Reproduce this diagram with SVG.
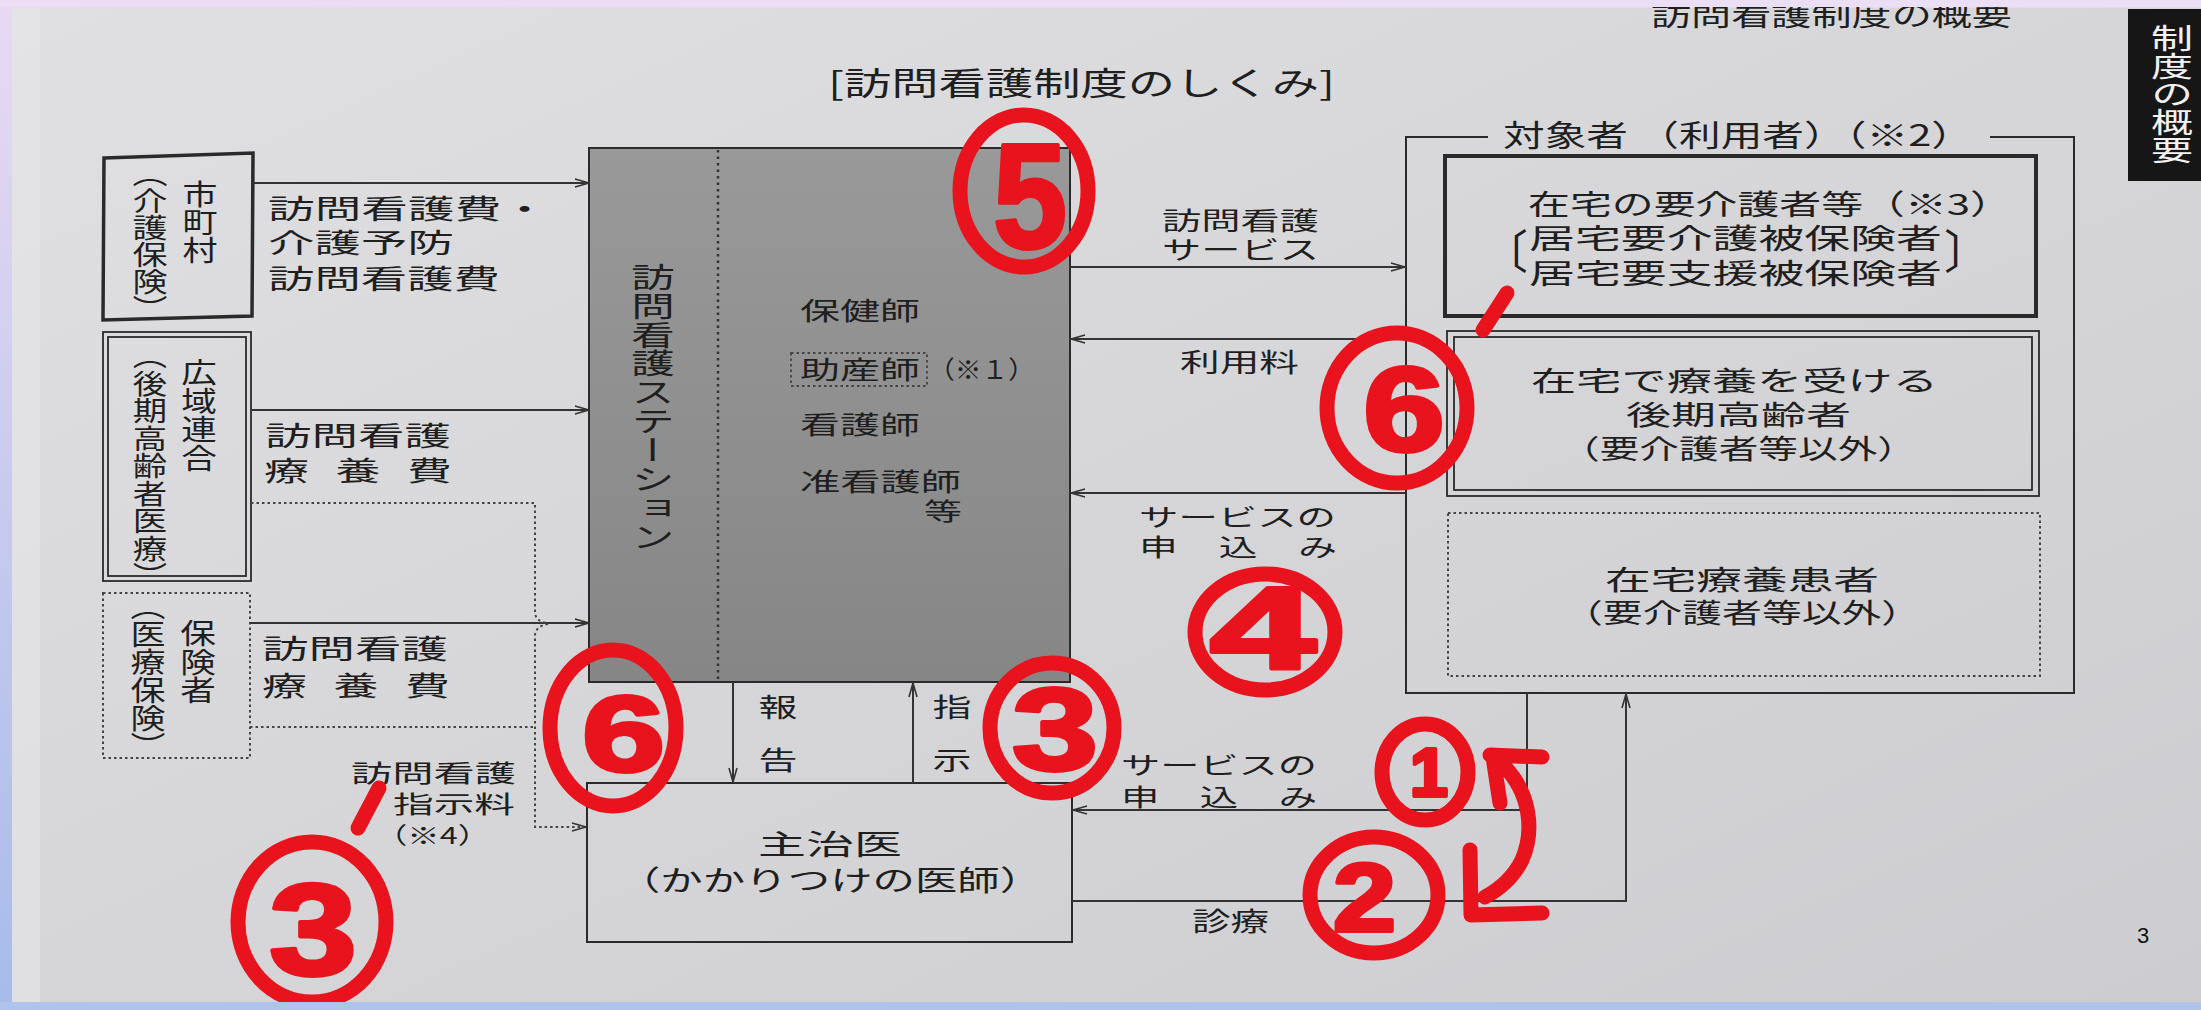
<svg xmlns="http://www.w3.org/2000/svg" width="2201" height="1010" viewBox="0 0 2201 1010">
<style>
.t{font-family:"Noto Sans CJK JP","Noto Sans",sans-serif;fill:#1f1f1f}
.v{writing-mode:vertical-rl}
.ln{fill:none;stroke:#333;stroke-width:2}
.bx{fill:none;stroke:#2a2a2a;stroke-width:2}
.dt{fill:none;stroke:#444;stroke-width:2;stroke-dasharray:2.5 3}
.red{fill:none;stroke:#e8131d;stroke-width:15;stroke-linecap:round;stroke-linejoin:round}
.rd{font-family:"Liberation Sans",sans-serif;font-weight:bold;fill:#e8131d;stroke:#e8131d;stroke-width:4;stroke-linejoin:round}
</style>
<defs>
<linearGradient id="bgL" x1="0" y1="0" x2="0" y2="1"><stop offset="0" stop-color="#e9d9f3"/><stop offset="1" stop-color="#a6bce9"/></linearGradient>
<linearGradient id="bgT" x1="0" y1="0" x2="1" y2="0"><stop offset="0" stop-color="#ecdcf4"/><stop offset="1" stop-color="#eadff4"/></linearGradient>
<linearGradient id="page" x1="0" y1="0" x2="1" y2="1"><stop offset="0" stop-color="#e0e0e3"/><stop offset="0.5" stop-color="#d6d6d9"/><stop offset="1" stop-color="#cdcdd1"/></linearGradient>
<linearGradient id="st" x1="0" y1="0" x2="0" y2="1"><stop offset="0" stop-color="#999"/><stop offset="1" stop-color="#868686"/></linearGradient>
<marker id="ah" viewBox="0 0 16 10" refX="15" refY="5" markerWidth="16" markerHeight="10" markerUnits="userSpaceOnUse" orient="auto"><path d="M1,1 L15,5 L1,9" fill="none" stroke="#333" stroke-width="1.6"/></marker>
</defs>

<rect width="2201" height="1010" fill="url(#bgL)"/>
<rect x="12" y="8" width="2189" height="994" fill="url(#page)"/>
<rect x="12" y="8" width="28" height="994" fill="#e6e6e8" opacity="0.6"/>

<g id="header">
<text class="t" x="1651" y="26" font-size="28" textLength="361" lengthAdjust="spacingAndGlyphs">訪問看護制度の概要</text>
</g>
<rect x="0" y="0" width="2201" height="7" fill="url(#bgT)"/>
<rect x="0" y="1002" width="2201" height="8" fill="#aec4ec"/>

<g id="tab">
<rect x="2128" y="9" width="73" height="172" fill="#161616"/>
<g transform="translate(2172 0) scale(1.5 1) translate(-2172 0)"><text class="t v" x="2172" y="24" font-size="28" style="fill:#f2f2f2">制度の概要</text></g>
</g>

<g id="title">
<text class="t" x="828" y="95" font-size="32" textLength="507" lengthAdjust="spacingAndGlyphs">[訪問看護制度のしくみ]</text>
</g>

<g id="node-shichoson">
<path class="bx" d="M104,158 L253,153 L252,316 L103,320 Z" style="stroke-width:3.5"/>
<g transform="translate(200 0) scale(1.25 1) translate(-200 0)"><text class="t v" x="200" y="180" font-size="28">市町村</text></g>
<g transform="translate(150 0) scale(1.3 1) translate(-150 0)"><text class="t v" x="150" y="160" font-size="27">（介護保険）</text></g>
</g>

<g id="node-kouiki">
<rect class="bx" x="103" y="332" width="148" height="249" style="stroke-width:1.8"/>
<rect class="bx" x="108" y="337" width="138" height="239" style="stroke-width:1.8"/>
<g transform="translate(199 0) scale(1.25 1) translate(-199 0)"><text class="t v" x="199" y="358" font-size="28.5">広域連合</text></g>
<g transform="translate(150 0) scale(1.25 1) translate(-150 0)"><text class="t v" x="150" y="342" font-size="27.5">（後期高齢者医療）</text></g>
</g>

<g id="node-hokensha">
<rect class="dt" x="103" y="593" width="147" height="165"/>
<g transform="translate(198 0) scale(1.25 1) translate(-198 0)"><text class="t v" x="198" y="619" font-size="28.5">保険者</text></g>
<g transform="translate(148 0) scale(1.25 1) translate(-148 0)"><text class="t v" x="148" y="592" font-size="28">（医療保険）</text></g>
</g>

<g id="node-station">
<rect x="589" y="148" width="481" height="534" fill="url(#st)" stroke="#2a2a2a" stroke-width="2"/>
<line x1="718" y1="150" x2="718" y2="681" stroke="#333" stroke-width="2.5" stroke-dasharray="2.5 4"/>
<g transform="translate(653 0) scale(1.5 1) translate(-653 0)"><text class="t v" x="653" y="262" font-size="29">訪問看護ステーション</text></g>
<text class="t" x="800" y="320" font-size="25" textLength="120" lengthAdjust="spacingAndGlyphs">保健師</text>
<rect class="dt" x="791" y="353" width="136" height="33" style="stroke-width:1.8"/>
<text class="t" x="800" y="379" font-size="25" textLength="120" lengthAdjust="spacingAndGlyphs">助産師</text>
<text class="t" x="928" y="379" font-size="25" textLength="107" lengthAdjust="spacingAndGlyphs">（※１）</text>
<text class="t" x="800" y="434" font-size="25" textLength="120" lengthAdjust="spacingAndGlyphs">看護師</text>
<text class="t" x="800" y="491" font-size="25" textLength="161" lengthAdjust="spacingAndGlyphs">准看護師</text>
<text class="t" x="924" y="520" font-size="24" textLength="38" lengthAdjust="spacingAndGlyphs">等</text>
</g>

<g id="node-doctor">
<rect class="bx" x="587" y="783" width="485" height="159"/>
<text class="t" x="758" y="855" font-size="28" textLength="144" lengthAdjust="spacingAndGlyphs">主治医</text>
<text class="t" x="618" y="891" font-size="28" textLength="424" lengthAdjust="spacingAndGlyphs">（かかりつけの医師）</text>
</g>

<g id="node-target">
<path class="bx" d="M1488,137 L1406,137 L1406,693 L2074,693 L2074,137 L1990,137"/>
<text class="t" x="1503" y="146" font-size="30" textLength="470" lengthAdjust="spacingAndGlyphs">対象者 （利用者）（※2）</text>
</g>

<g id="node-youkaigo">
<rect class="bx" x="1445" y="156" width="591" height="160" style="stroke-width:4"/>
<text class="t" x="1528" y="215" font-size="28" textLength="484" lengthAdjust="spacingAndGlyphs">在宅の要介護者等（※3）</text>
<text class="t" x="1528" y="268" font-size="46" text-anchor="end">〔</text>
<text class="t" x="1529" y="249" font-size="28" textLength="413" lengthAdjust="spacingAndGlyphs">居宅要介護被保険者</text>
<text class="t" x="1529" y="284" font-size="28" textLength="413" lengthAdjust="spacingAndGlyphs">居宅要支援被保険者</text>
<text class="t" x="1944" y="268" font-size="46">〕</text>
</g>

<g id="node-kouki">
<rect class="bx" x="1447" y="331" width="592" height="165" style="stroke-width:1.8"/>
<rect class="bx" x="1454" y="337" width="578" height="153" style="stroke-width:1.8"/>
<text class="t" x="1531" y="391" font-size="27" textLength="407" lengthAdjust="spacingAndGlyphs">在宅で療養を受ける</text>
<text class="t" x="1626" y="425" font-size="27" textLength="225" lengthAdjust="spacingAndGlyphs">後期高齢者</text>
<text class="t" x="1560" y="459" font-size="27" textLength="357" lengthAdjust="spacingAndGlyphs">（要介護者等以外）</text>
</g>

<g id="node-kanja">
<rect class="dt" x="1448" y="513" width="592" height="163"/>
<text class="t" x="1605" y="590" font-size="27" textLength="274" lengthAdjust="spacingAndGlyphs">在宅療養患者</text>
<text class="t" x="1563" y="623" font-size="27" textLength="358" lengthAdjust="spacingAndGlyphs">（要介護者等以外）</text>
</g>

<g id="connectors">
<path class="ln" d="M253,183 H589" marker-end="url(#ah)"/>
<path class="ln" d="M251,410 H589" marker-end="url(#ah)"/>
<path class="ln" d="M250,623 H589" marker-end="url(#ah)"/>
<path class="dt" d="M251,503 H535 V613 Q536,622 548,623"/>
<path class="dt" d="M548,624 Q536,626 535,635 V827 H586" marker-end="url(#ah)"/>
<path class="dt" d="M250,727 H535"/>
<path class="ln" d="M1070,267 H1405" marker-end="url(#ah)"/>
<path class="ln" d="M1405,339 H1071" marker-end="url(#ah)"/>
<path class="ln" d="M1405,493 H1071" marker-end="url(#ah)"/>
<path class="ln" d="M733,682 V782" marker-end="url(#ah)"/>
<path class="ln" d="M913,783 V683" marker-end="url(#ah)"/>
<path class="ln" d="M1527,693 V810 H1073" marker-end="url(#ah)"/>
<path class="ln" d="M1072,901 H1626 V694" marker-end="url(#ah)"/>
</g>

<g id="labels">
<text class="t" x="268" y="219" font-size="27" textLength="280" lengthAdjust="spacingAndGlyphs">訪問看護費・</text>
<text class="t" x="268" y="253" font-size="27" textLength="186" lengthAdjust="spacingAndGlyphs">介護予防</text>
<text class="t" x="268" y="289" font-size="27" textLength="232" lengthAdjust="spacingAndGlyphs">訪問看護費</text>
<text class="t" x="265" y="446" font-size="27" textLength="186" lengthAdjust="spacingAndGlyphs">訪問看護</text>
<text class="t" x="264" y="481" font-size="27" textLength="188" lengthAdjust="spacingAndGlyphs" style="word-spacing:10px">療 養 費</text>
<text class="t" x="262" y="659" font-size="27" textLength="186" lengthAdjust="spacingAndGlyphs">訪問看護</text>
<text class="t" x="262" y="696" font-size="27" textLength="188" lengthAdjust="spacingAndGlyphs" style="word-spacing:10px">療 養 費</text>
<text class="t" x="351" y="782" font-size="24" textLength="165" lengthAdjust="spacingAndGlyphs">訪問看護</text>
<text class="t" x="393" y="813" font-size="24" textLength="122" lengthAdjust="spacingAndGlyphs">指示料</text>
<text class="t" x="375" y="844" font-size="23" textLength="115" lengthAdjust="spacingAndGlyphs">（※4）</text>
<text class="t" x="1162" y="230" font-size="25" textLength="157" lengthAdjust="spacingAndGlyphs">訪問看護</text>
<text class="t" x="1162" y="259" font-size="25" textLength="157" lengthAdjust="spacingAndGlyphs">サービス</text>
<text class="t" x="1180" y="372" font-size="26" textLength="119" lengthAdjust="spacingAndGlyphs">利用料</text>
<text class="t" x="1139" y="526" font-size="24" textLength="197" lengthAdjust="spacingAndGlyphs">サービスの</text>
<text class="t" x="1139" y="556" font-size="24" textLength="198" lengthAdjust="spacingAndGlyphs" style="word-spacing:20px">申 込 み</text>
<text class="t" x="1121" y="774" font-size="24" textLength="196" lengthAdjust="spacingAndGlyphs">サービスの</text>
<text class="t" x="1121" y="806" font-size="24" textLength="196" lengthAdjust="spacingAndGlyphs" style="word-spacing:20px">申 込 み</text>
<text class="t" x="1192" y="931" font-size="26" textLength="77" lengthAdjust="spacingAndGlyphs">診療</text>
<g transform="translate(778 0) scale(1.5 1) translate(-778 0)"><text class="t v" x="778" y="694" font-size="26" letter-spacing="27">報告</text></g>
<g transform="translate(952 0) scale(1.5 1) translate(-952 0)"><text class="t v" x="952" y="694" font-size="26" letter-spacing="27">指示</text></g>
</g>

<text x="2137" y="943" font-family="Liberation Sans, sans-serif" font-size="22" fill="#111">3</text>

<g id="annotations">
<ellipse class="red" cx="1024" cy="191" rx="64" ry="76"/>
<text class="rd" x="993" y="248" font-size="148" textLength="74" lengthAdjust="spacingAndGlyphs">5</text>
<ellipse class="red" cx="1397" cy="408" rx="70" ry="75"/>
<text class="rd" x="1363" y="451" font-size="120" textLength="82" lengthAdjust="spacingAndGlyphs">6</text>
<line class="red" x1="1507" y1="293" x2="1483" y2="330"/>
<ellipse class="red" cx="613" cy="728" rx="63" ry="78"/>
<text class="rd" x="582" y="771" font-size="108" textLength="83" lengthAdjust="spacingAndGlyphs">6</text>
<ellipse class="red" cx="1052" cy="728" rx="62" ry="65"/>
<text class="rd" x="1012" y="770" font-size="116" textLength="86" lengthAdjust="spacingAndGlyphs">3</text>
<ellipse class="red" cx="1265" cy="632" rx="70" ry="58"/>
<text class="rd" x="1210" y="668" font-size="116" textLength="106" lengthAdjust="spacingAndGlyphs">4</text>
<ellipse class="red" cx="1425" cy="772" rx="43" ry="48"/>
<text class="rd" x="1410" y="796" font-size="68">1</text>
<ellipse class="red" cx="1374" cy="895" rx="64" ry="58"/>
<text class="rd" x="1333" y="931" font-size="96" textLength="63" lengthAdjust="spacingAndGlyphs">2</text>
<path class="red" d="M1490,755 L1542,757 M1493,757 L1500,803 M1503,765 C1530,792 1535,830 1522,860 C1512,880 1498,890 1485,897 M1470,850 L1471,915 L1542,913"/>
<ellipse class="red" cx="312" cy="922" rx="74" ry="80"/>
<text class="rd" x="269" y="975" font-size="130" textLength="88" lengthAdjust="spacingAndGlyphs">3</text>
<line class="red" x1="379" y1="788" x2="358" y2="828"/>
</g>
<rect x="0" y="1002" width="2201" height="8" fill="#aec4ec"/>
</svg>
